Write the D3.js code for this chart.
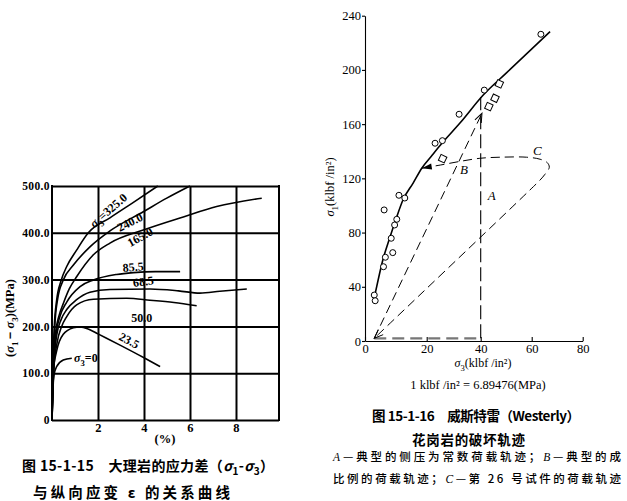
<!DOCTYPE html>
<html>
<head>
<meta charset="utf-8">
<script src="https://cdn.jsdelivr.net/npm/d3@7"></script>
<style>
body { margin: 0; background: #fff; }
svg { display: block; }
.serif { font-family: "Liberation Serif", "DejaVu Serif", serif; }
.cn { font-family: "Noto Sans CJK SC", sans-serif; }
</style>
</head>
<body>
<script>
// ---- left chart: marble, (s1-s3) vs axial strain ----
var marble_x_ticks = [2, 4, 6, 8];
var marble_y_ticks = [0, 100, 200, 300, 400, 500];
var marble_y_labels = ["0", "100.0", "200.0", "300.0", "400.0", "500.0"];

// [strain %, stress difference MPa] for each confining pressure
var curve_325 = [[0,0],[0.04,120],[0.1,200],[0.2,255],[0.39,297],[0.64,328],[1.07,363],[1.58,400],[2.52,432],[3.54,465],[4.6,500]];
var curve_240 = [[0,0],[0.05,120],[0.12,200],[0.25,260],[0.49,299],[0.93,331],[1.65,370],[2.52,404],[3.97,445],[4.99,474],[6.0,500]];
var curve_165 = [[0,0],[0.06,120],[0.15,185],[0.3,222],[0.5,250],[0.75,280],[1.07,306],[1.8,353],[2.52,378],[3.97,406],[5.71,434],[7.16,456],[9.12,474]];
var curve_85 = [[0,0],[0.07,120],[0.18,185],[0.35,222],[0.64,252],[1.22,285],[1.8,299],[2.81,311],[3.54,315],[4.5,317],[5.57,317]];
var curve_68 = [[0,0],[0.08,115],[0.2,180],[0.4,215],[0.64,236],[1.07,257],[1.65,273],[2.52,279],[4.26,280],[5.5,276],[6.43,271],[7.3,275],[8.47,280]];
var curve_50 = [[0,0],[0.08,110],[0.22,165],[0.42,200],[0.64,221],[1.07,246],[1.8,258],[3.25,260],[4.26,256],[5.3,251],[6.29,244]];
var curve_23 = [[0,0],[0.04,100],[0.2,147],[0.49,183],[0.93,197],[1.22,199],[1.6,194],[2.0,184],[3.0,159],[4.0,133],[4.7,114]];
var curve_0 = [[0,0],[0.02,60],[0.08,95],[0.2,114],[0.49,128],[0.86,132]];
var marble_curves = [curve_325, curve_240, curve_165, curve_85, curve_68, curve_50, curve_23, curve_0];
var marble_names = ["325.0", "240.0", "165.0", "85.5", "68.5", "50.0", "23.5", "0"];

// ---- right chart: Westerly granite failure paths ----
var granite_x_ticks = [0, 20, 40, 60, 80];
var granite_y_ticks = [0, 40, 80, 120, 160, 200, 240];
var circle_s3 = [63.6, 41.4, 32.0, 23.1, 25.8, 6.2, 11.0, 12.9, 10.3, 9.6, 8.5, 9.0, 6.6, 6.0, 3.0, 3.3];
var circle_s1 = [226.3, 185.1, 167.3, 145.9, 147.8, 96.7, 107.5, 105.5, 89.8, 85.6, 75.8, 65.2, 61.8, 54.8, 33.9, 29.7];
var square_s3 = [47.3, 45.6, 43.2, 25.9];
var square_s1 = [189.7, 179.1, 172.9, 134.5];
var envelope = [[3.4,36],[5.8,60],[8.0,76],[10.2,91],[12.3,104],[15.6,116.5],[18.4,127.5],[22,137],[25.7,146],[32.4,161],[41.0,181.5],[50.2,198],[67.2,228.3]];
var path_A = [[3,2],[40,2],[40,180]];
var path_B = [[3,2],[40.5,168]];
var path_C = [[18.4,127.5],[25,129.8],[32.3,132.5],[39.7,134.8],[47.7,135.6],[58,135.6],[63.3,134.1],[66.1,131.6],[66.9,128.2],[65.2,123],[63.3,118.8],[59.3,111.4],[3,2]];

var svg = d3.select("body").append("svg")
    .attr("width", 627)
    .attr("height", 501);

// text with italic sigma and subscripts
function richText(parent, x, y, parts, size)
{
    var t = parent.append("text").attr("x", x).attr("y", y).attr("font-size", size);
    var shift = 0;
    parts.forEach(function(p) {
        var s = t.append("tspan").text(p.t);
        var want = p.sub ? Math.round(size * 0.3) : 0;
        if (want != shift) { s.attr("dy", want - shift); shift = want; }
        if (p.sub) s.attr("font-size", size * 0.72);
        if (p.it) s.attr("font-style", "italic");
    });
    return t;
}

// ================= left chart =================
var lx = d3.scaleLinear().domain([0, 9.87]).range([52, 279]);
var ly = d3.scaleLinear().domain([0, 500]).range([420, 186]);

var left = svg.append("g").attr("class", "serif");

var lyAxis = d3.axisLeft(ly)
    .tickValues(marble_y_ticks)
    .tickFormat(function(d, i) { return marble_y_labels[i]; })
    .tickSize(-(lx.range()[1] - lx.range()[0]))
    .tickPadding(2);
var gy = left.append("g").attr("transform", "translate(" + lx(0) + ",0)").call(lyAxis);
gy.select(".domain").remove();
gy.selectAll("line").attr("stroke", "#000").attr("stroke-width", 2);
gy.selectAll("text").attr("font-family", "Liberation Serif").attr("font-weight", "bold")
    .attr("font-size", 11.5).attr("letter-spacing", 0.4).attr("fill", "#000");

var lxAxis = d3.axisBottom(lx)
    .tickValues(marble_x_ticks)
    .tickSize(-(ly.range()[0] - ly.range()[1]))
    .tickPadding(3);
var gx = left.append("g").attr("transform", "translate(0," + ly(0) + ")").call(lxAxis);
gx.select(".domain").remove();
gx.selectAll("line").attr("stroke", "#000").attr("stroke-width", 2);
gx.selectAll("text").attr("font-family", "Liberation Serif").attr("font-weight", "bold")
    .attr("font-size", 12.5).attr("fill", "#000");

// frame: left axis and right border
left.append("line").attr("x1", lx(0)).attr("x2", lx(0)).attr("y1", ly(0) + 1).attr("y2", ly(500) - 1)
    .attr("stroke", "#000").attr("stroke-width", 2);
left.append("line").attr("x1", lx(9.87)).attr("x2", lx(9.87)).attr("y1", ly(0) + 1).attr("y2", ly(500) - 1)
    .attr("stroke", "#000").attr("stroke-width", 2);

var lline = d3.line()
    .x(function(d) { return lx(d[0]); })
    .y(function(d) { return ly(d[1]); })
    .curve(d3.curveMonotoneX);

left.selectAll(".mcurve")
    .data(marble_curves)
    .enter().append("path")
    .attr("class", "mcurve")
    .attr("d", lline)
    .attr("fill", "none")
    .attr("stroke", "#000")
    .attr("stroke-width", 1.6);

// curve labels: [x, y, rotation]
var label_spots = [[2.45,448,-41],[3.39,423,-27],[3.83,391,-29],[3.53,327,-5],[3.97,296,-8],[3.9,219,0],[3.36,170,28],[0.96,132,0]];
marble_names.forEach(function(name, i) {
    var s = label_spots[i];
    var parts;
    if (i == 0) parts = [{t: "σ", it: true}, {t: "3", sub: true}, {t: "=" + name}];
    else if (i == 7) parts = [{t: "σ", it: true}, {t: "3", sub: true}, {t: "=0"}];
    else parts = [{t: name}];
    richText(left, 0, 0, parts, 12)
        .attr("font-weight", "bold")
        .attr("dy", "0.35em")
        .attr("text-anchor", i == 7 ? "start" : "middle")
        .attr("transform", "translate(" + lx(s[0]) + "," + ly(s[1]) + ") rotate(" + s[2] + ")");
});

// y axis title
richText(left, 0, 0, [{t: "("}, {t: "σ", it: true}, {t: "1", sub: true}, {t: "－"}, {t: "σ", it: true}, {t: "3", sub: true}, {t: ")(MPa)"}], 12.5)
    .attr("font-weight", "bold")
    .attr("text-anchor", "middle")
    .attr("transform", "translate(14,318) rotate(-90)");

left.append("text").text("(%)")
    .attr("x", 165).attr("y", 443)
    .attr("text-anchor", "middle")
    .attr("font-weight", "bold").attr("font-size", 12.5);

// left caption
richText(svg, 22, 471, [{t: "图 15-1-15　大理岩的应力差（"}, {t: "σ", it: true}, {t: "1", sub: true}, {t: "-"}, {t: "σ", it: true}, {t: "3", sub: true}, {t: "）"}], 14)
    .attr("class", "cn").attr("font-weight", "bold")
    .attr("textLength", 252).attr("lengthAdjust", "spacing");
svg.append("text").attr("class", "cn")
    .attr("x", 33).attr("y", 498)
    .attr("font-size", 14.5).attr("font-weight", "bold")
    .attr("textLength", 197).attr("lengthAdjust", "spacing")
    .text("与纵向应变 ε 的关系曲线");

// ================= right chart =================
// the scanned axis is a little uneven, so the scale follows the printed ticks
var rx = d3.scaleLinear().domain(granite_x_ticks).range([365, 426.7, 480.7, 531.7, 582.7]);
var ry = d3.scaleLinear().domain([0, 240]).range([341, 15.7]);

var right = svg.append("g").attr("class", "serif");

var ryAxis = d3.axisLeft(ry).tickValues(granite_y_ticks).tickSizeInner(3).tickSizeOuter(0).tickPadding(1);
var gry = right.append("g").attr("transform", "translate(" + rx(0) + ",0)").call(ryAxis);
var rxAxis = d3.axisBottom(rx).tickValues(granite_x_ticks).tickSizeInner(-4).tickSizeOuter(0).tickPadding(3);
var grx = right.append("g").attr("transform", "translate(0," + ry(0) + ")").call(rxAxis);
[gry, grx].forEach(function(g) {
    g.selectAll("path, line").attr("stroke", "#000").attr("stroke-width", 1.1);
    g.selectAll("text").attr("font-family", "Liberation Serif").attr("font-size", 12.5).attr("fill", "#000");
});

var defs = svg.append("defs");
defs.append("marker").attr("id", "open")
    .attr("viewBox", "-1 -5 11 10").attr("refX", 9).attr("refY", 0)
    .attr("markerUnits", "userSpaceOnUse").attr("markerWidth", 11).attr("markerHeight", 10)
    .attr("orient", "auto")
    .append("path").attr("d", "M0,-3.5 L9,0 L0,3.5").attr("fill", "none").attr("stroke", "#000").attr("stroke-width", 1);
defs.append("marker").attr("id", "solid")
    .attr("viewBox", "-1 -5 12 10").attr("refX", 10).attr("refY", 0)
    .attr("markerUnits", "userSpaceOnUse").attr("markerWidth", 12).attr("markerHeight", 10)
    .attr("orient", "auto-start-reverse")
    .append("path").attr("d", "M0,-3 L10,0 L0,3 Z").attr("fill", "#000");

var rline = d3.line()
    .x(function(d) { return rx(d[0]); })
    .y(function(d) { return ry(d[1]); });

// loading paths
right.append("path").attr("d", rline(path_A.slice(0, 2)))
    .attr("fill", "none").attr("stroke", "#777").attr("stroke-width", 2.2).attr("stroke-dasharray", "12,6");
right.append("path").attr("d", rline(path_A.slice(1)))
    .attr("fill", "none").attr("stroke", "#000").attr("stroke-width", 1.1).attr("stroke-dasharray", "14,5");
right.append("path").attr("d", rline(path_B))
    .attr("fill", "none").attr("stroke", "#000").attr("stroke-width", 1).attr("stroke-dasharray", "9,5")
    .attr("marker-end", "url(#open)");
right.append("path").attr("d", rline.curve(d3.curveCatmullRom.alpha(0.5))(path_C))
    .attr("fill", "none").attr("stroke", "#000").attr("stroke-width", 1).attr("stroke-dasharray", "9,5")
    .attr("marker-start", "url(#solid)").attr("marker-end", "url(#open)");

// fitted failure envelope
right.append("path").attr("d", rline.curve(d3.curveMonotoneX)(envelope))
    .attr("fill", "none").attr("stroke", "#000").attr("stroke-width", 1.6);

// test points
right.selectAll(".pt")
    .data(circle_s3)
    .enter().append("circle")
    .attr("class", "pt")
    .attr("cx", function(d) { return rx(d); })
    .attr("cy", function(d, i) { return ry(circle_s1[i]); })
    .attr("r", 3)
    .attr("fill", "#fff").attr("stroke", "#000").attr("stroke-width", 1);
right.selectAll(".sq")
    .data(square_s3)
    .enter().append("rect")
    .attr("class", "sq")
    .attr("x", -3.2).attr("y", -3.2).attr("width", 6.4).attr("height", 6.4)
    .attr("transform", function(d, i) { return "translate(" + rx(d) + "," + ry(square_s1[i]) + ") rotate(25)"; })
    .attr("fill", "#fff").attr("stroke", "#000").attr("stroke-width", 1);

// path letters
[["A", 44.3, 107.7], ["B", 33.8, 126.2], ["C", 62.2, 140.4]].forEach(function(l) {
    right.append("text").text(l[0])
        .attr("x", rx(l[1])).attr("y", ry(l[2])).attr("dy", "0.35em")
        .attr("text-anchor", "middle").attr("font-style", "italic").attr("font-size", 13);
});

// axis titles
richText(right, 0, 0, [{t: "σ", it: true}, {t: "1", sub: true}, {t: "(klbf /in²)"}], 12.5)
    .attr("text-anchor", "middle")
    .attr("transform", "translate(334,187) rotate(-90)");
richText(right, 483, 367, [{t: "σ", it: true}, {t: "3", sub: true}, {t: "(klbf /in²)"}], 12)
    .attr("text-anchor", "middle");
right.append("text").text("1 klbf /in² = 6.89476(MPa)")
    .attr("x", 478).attr("y", 389).attr("text-anchor", "middle").attr("font-size", 12.5);

// right caption
svg.append("text").attr("class", "cn")
    .attr("x", 372).attr("y", 421).attr("font-size", 13.5).attr("font-weight", "bold")
    .attr("textLength", 208).attr("lengthAdjust", "spacing")
    .text("图 15-1-16　威斯特雷（Westerly）");
svg.append("text").attr("class", "cn")
    .attr("x", 412).attr("y", 445).attr("font-size", 13.5).attr("font-weight", "bold")
    .attr("textLength", 113).attr("lengthAdjust", "spacing")
    .text("花岗岩的破坏轨迹");
var c3 = svg.append("text").attr("class", "cn")
    .attr("x", 333).attr("y", 461).attr("font-size", 11.5).attr("font-weight", 500)
    .attr("textLength", 288).attr("lengthAdjust", "spacing");
c3.append("tspan").attr("font-family", "Liberation Serif").attr("font-style", "italic").text("A");
c3.append("tspan").text("—典型的侧压为常数荷载轨迹；");
c3.append("tspan").attr("font-family", "Liberation Serif").attr("font-style", "italic").text("B");
c3.append("tspan").text("—典型的成");
var c4 = svg.append("text").attr("class", "cn")
    .attr("x", 333).attr("y", 483).attr("font-size", 11.5).attr("font-weight", 500)
    .attr("textLength", 288).attr("lengthAdjust", "spacing");
c4.append("tspan").text("比例的荷载轨迹；");
c4.append("tspan").attr("font-family", "Liberation Serif").attr("font-style", "italic").text("C");
c4.append("tspan").text("—第 26 号试件的荷载轨迹");
</script>
</body>
</html>
